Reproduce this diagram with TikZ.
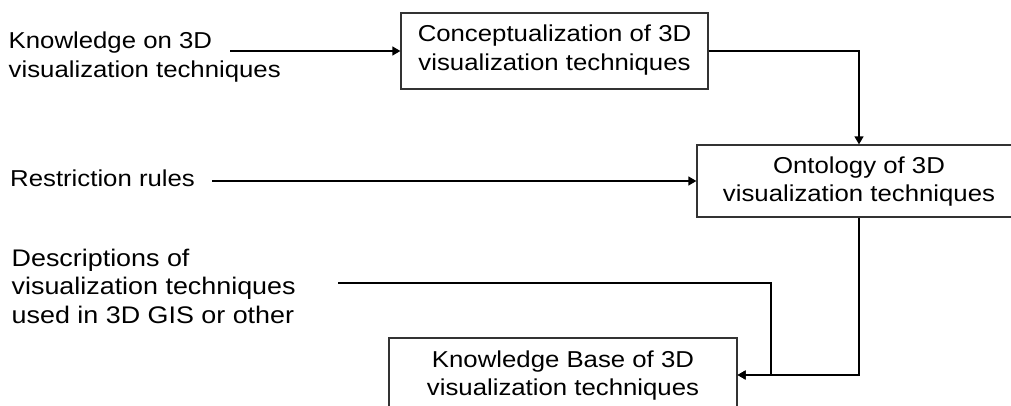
\documentclass[tikz,border=0pt]{standalone}
\usepackage{fontspec}
\setmainfont[FakeStretch=1.12]{Liberation Sans}
\usetikzlibrary{arrows.meta}
\newcommand\firststrut{\rule{0pt}{20pt}}
\begin{document}
\begin{tikzpicture}[x=1pt,y=-1pt,
  box/.style={draw=black!80, line width=1.3pt, inner sep=0pt},
  txt/.style={inner sep=0pt, align=center, anchor=north, font=\fontsize{23}{28.5}\selectfont},
  ltxt/.style={inner sep=0pt, align=left, anchor=north west, font=\fontsize{23}{28.5}\selectfont},
  conn/.style={line width=1.3pt, -{Triangle[length=8pt,width=9pt]}}
]
\clip (0,0) rectangle (1011,405);
\fill[white] (0,0) rectangle (1011,405);

% boxes
\node[box, minimum width=307pt, minimum height=76pt] (b1) at (554.5,51) {};
\node[box, minimum width=324pt, minimum height=72pt] (b2) at (859,181) {};
\node[box, minimum width=348pt, minimum height=74pt] (b3) at (563,375) {};

% box texts
\node[txt] (t1) at (554.5,21.7) {\firststrut Conceptualization of 3D\\visualization techniques};
\node[txt] (t2) at (859,153) {\firststrut Ontology of 3D\\visualization techniques};
\node[txt] (t3) at (563,347) {\firststrut Knowledge Base of 3D\\visualization techniques};

% left texts
\node[ltxt] (k) at (8.5,28.3) {\firststrut Knowledge on 3D\\visualization techniques};
\node[ltxt] (r) at (10,166.7) {\firststrut Restriction rules};
\node[ltxt, font=\fontsize{24}{28.5}\selectfont] (d) at (11.5,246) {\firststrut Descriptions of\\visualization techniques\\used in 3D GIS or other};

% connectors
\coordinate (k1) at (230,51);
\coordinate (r1) at (212,181);
\coordinate (d1) at (338,283);
\coordinate (j1) at (771,375);
\draw[conn] (k1) -- (b1.west);
\draw[conn] (r1) -- (b2.west);
\draw[conn] (b1.east) -| (b2.north);
\draw[conn] (b2.south) |- (b3.east);
\draw[conn] (d1) -| (j1) -- (b3.east);
\end{tikzpicture}
\end{document}
